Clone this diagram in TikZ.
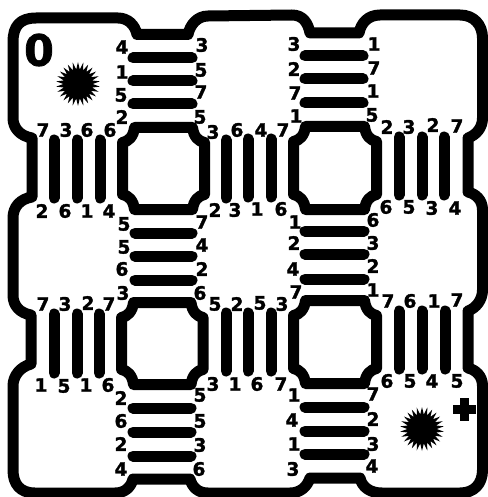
\documentclass[tikz,border=0pt]{standalone}
\usepackage{fontspec}
\setmainfont{DejaVu Sans}[BoldFeatures={FakeBold=1.6}]
\usetikzlibrary{shapes.geometric}
\tikzset{
  wall/.style={line width=11pt,line join=round},
  bar/.style={line width=11pt,line cap=round},
  num/.style={font=\fontsize{18.5}{18.5}\selectfont\bfseries,inner sep=0pt,text=black},
  burst/.style={star,star points=26,star point ratio=1.5,fill=black,draw=none,minimum size=44pt,inner sep=0pt}
}
\newcommand{\octa}[4]{%
  \draw[wall] (#1+12,#2) -- (#3-12,#2)
    .. controls (#3-11,#2+9) and (#3-6,#2+14) .. (#3,#2+15)
    -- (#3,#4-15)
    .. controls (#3-6,#4-14) and (#3-11,#4-9) .. (#3-12,#4)
    -- (#1+12,#4)
    .. controls (#1+11,#4-9) and (#1+6,#4-14) .. (#1,#4-15)
    -- (#1,#2+15)
    .. controls (#1+6,#2+14) and (#1+11,#2+9) .. (#1+12,#2) -- cycle;}
\begin{document}
\begin{tikzpicture}[x=1pt,y=-1pt]
\useasboundingbox (0,0) rectangle (487,497);
% outer wall
\draw[wall] (13,42) .. controls (13,26) and (20,18) .. (36,18) -- (118,18)
  .. controls (128,18) and (135,25) .. (137,34.5) -- (188,34.5)
  .. controls (190,25) and (197,16) .. (208,16) -- (292,15)
  .. controls (303,15) and (308,23) .. (310,33) -- (359,33)
  .. controls (361,23) and (368,15) .. (380,15) -- (460,15)
  .. controls (474,15) and (482.5,25) .. (482.5,38) -- (482.5,118)
  .. controls (482.5,128) and (476,135) .. (468,138) -- (468,192)
  .. controls (476,194) and (482.5,200) .. (482.5,210) -- (482.5,290)
  .. controls (482.5,300) and (476,308) .. (468,311) -- (468,368)
  .. controls (476,370) and (482.5,376) .. (482.5,386) -- (482.5,470)
  .. controls (482.5,484) and (474,493) .. (460,493) -- (382,493)
  .. controls (370,493) and (362,487) .. (360,478) -- (310,478)
  .. controls (307,487) and (300,493) .. (290,493) -- (208,493)
  .. controls (198,493) and (192,487) .. (190,479) -- (133,479)
  .. controls (131,487) and (125,493) .. (115,493) -- (35,493)
  .. controls (20,493) and (13,484) .. (13,470) -- (13,386)
  .. controls (13,376) and (20,367) .. (31,364) -- (31,315)
  .. controls (20,313) and (13,306) .. (13,295) -- (13,218)
  .. controls (13,207) and (20,199) .. (32,197) -- (32,138)
  .. controls (20,136) and (13,128) .. (13,118) -- cycle;
% inner octagons
\octa{122.5}{127.5}{204.5}{209.5}
\octa{293.5}{126.5}{376.5}{209.5}
\octa{121.5}{302.5}{203}{384.5}
\octa{293.5}{300.5}{376.5}{383.5}
% horizontal bars
\foreach \xa/\xb/\yy in {
  133/192/58,133/192/81,133/192/104,
  305/363/56,305/363/79,305/363/103,
  135/192/233,135/192/256,135/192/280,
  305/364/231,305/364/254,305/364/279,
  133/191/408,133/191/432,133/191/456,
  305/364/407,305/364/431,305/364/454}
  {\draw[bar] (\xa,\yy) -- (\xb,\yy);}
% vertical bars
\foreach \xx/\ya/\yb in {
  54/140/198,77/140/198,100/140/198,
  226/140/198,248/139/197,271/139/197,
  399/137/195,422/137/195,444/137/195,
  54/314/373,77/314/373,99/314/373,
  226/313/371,248/313/371,271/313/371,
  399/311/369,422/311/369,445/311/369}
  {\draw[bar] (\xx,\ya) -- (\xx,\yb);}
% numbers
\foreach \xx/\yy/\tt in {
 122/47/4,122/72/1,121/95/5,122/117/2,202/45/3,201/70/5,201/92/7,200/117/5,
 43/130/7,66/130/3,87/130/6,110/130/6,42/211/2,65/211/6,87/211/1,109/211/4,
 213/132/3,237/130/6,261/130/4,283/130/7,215/210/2,235/210/3,257/209/1,281/209/6,
 294/44/3,294/69/2,295/93/7,296/116/1,374/44/1,374/68/7,373/91/1,372/115/5,
 387/127/2,409/127/3,433/125/2,457/126/7,386/207/6,409/207/5,432/208/3,455/208/4,
 124/224/5,124/247/5,122/269/6,123/293/3,202/222/7,202/245/4,202/269/2,200/293/6,
 295/222/1,294/243/2,293/269/4,296/292/7,373/220/6,373/243/3,373/266/2,373/290/1,
 43/304/7,65/304/3,88/303/2,109/304/7,41/385/1,64/386/5,86/385/1,108/385/6,
 215/304/5,237/304/2,260/303/5,282/304/3,213/384/3,235/384/1,257/384/6,281/384/7,
 388/301/7,410/301/6,434/301/1,457/300/7,387/381/6,410/381/5,432/381/4,457/381/5,
 121/398/2,121/421/6,121/444/2,121/469/4,200/395/5,200/421/5,200/445/3,199/469/6,
 294/395/1,292/420/4,294/444/1,293/469/3,373/394/7,373/419/2,373/444/3,372/466/4}
  {\node[num] (n\xx-\yy) at (\xx,\yy) {\tt};}
% marks
\node[font=\fontsize{43}{43}\selectfont\bfseries,inner sep=0pt] (zero) at (39,50) {0};
\node[burst] (sunA) at (78,84) {};
\node[burst] (sunB) at (422,429) {};
\fill (459.5,398) rectangle (468.5,421);
\fill (453,405) rectangle (475.5,413.5);
\end{tikzpicture}
\end{document}
